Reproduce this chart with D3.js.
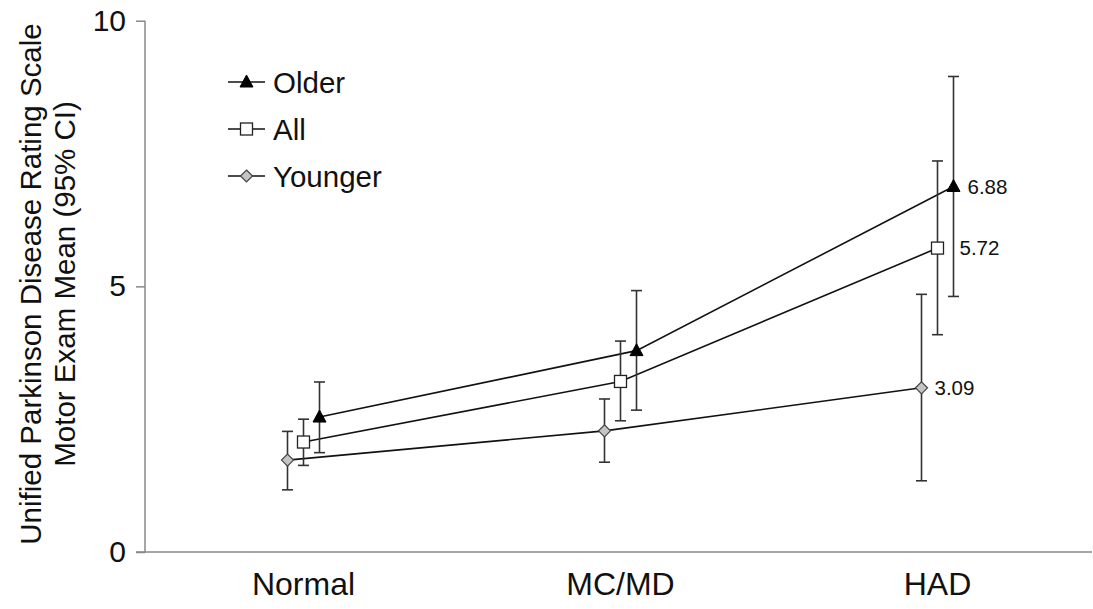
<!DOCTYPE html>
<html><head><meta charset="utf-8">
<script src="https://cdn.jsdelivr.net/npm/d3@7"></script>
<style>body{margin:0;background:#fff}svg{display:block}text{font-family:"Liberation Sans",Arial,sans-serif;fill:#111}</style>
</head><body><svg id="c" width="1093" height="609"></svg>
<script>
const categories = ["Normal", "MC/MD", "HAD"];
const seriesNames = ["Older", "All", "Younger"];
const olderMean = [2.54, 3.79, 6.88];
const olderLow  = [1.87, 2.67, 4.81];
const olderHigh = [3.20, 4.92, 8.95];
const allMean = [2.07, 3.21, 5.72];
const allLow  = [1.63, 2.47, 4.09];
const allHigh = [2.50, 3.97, 7.36];
const youngerMean = [1.73, 2.28, 3.09];
const youngerLow  = [1.17, 1.69, 1.34];
const youngerHigh = [2.27, 2.88, 4.85];
const yTicks = [0, 5, 10];
const valueLabels = ["6.88", "5.72", "3.09"];

const svg = d3.select("#c");
const x = d3.scaleBand().domain(categories).range([145, 1096]);
const y = d3.scaleLinear().domain([0, 10]).range([552, 20.7]);
const offset = d3.scalePoint().domain(["Younger", "All", "Older"]).range([-16, 16]);

const series = [
  {name: "Older", mean: olderMean, lo: olderLow, hi: olderHigh, labelDx: 14},
  {name: "All", mean: allMean, lo: allLow, hi: allHigh, labelDx: 22},
  {name: "Younger", mean: youngerMean, lo: youngerLow, hi: youngerHigh, labelDx: 13}
];
const cx = (s, i) => x(categories[i]) + x.bandwidth() / 2 + offset(s.name);

// axes
const yAxis = d3.axisLeft(y).tickValues(yTicks).tickSize(9).tickPadding(10);
const gy = svg.append("g").attr("transform", "translate(145,0)").call(yAxis);
gy.select(".domain").attr("stroke", "#888").attr("stroke-width", 1.5).attr("d", "M0,20.7V552");
gy.selectAll(".tick line").attr("stroke", "#888").attr("stroke-width", 1.5);
gy.selectAll(".tick text").attr("font-size", 30).attr("fill", "#111").attr("font-family", "Liberation Sans, Arial, sans-serif");

const xAxis = d3.axisBottom(x).tickSize(0).tickPadding(20);
const gx = svg.append("g").attr("transform", "translate(0,552)").call(xAxis);
gx.select(".domain").attr("stroke", "#888").attr("stroke-width", 1.5).attr("d", "M136,0H1092");
gx.selectAll(".tick text").attr("font-size", 32).attr("fill", "#111").attr("font-family", "Liberation Sans, Arial, sans-serif")
  .attr("y", 20).attr("dy", "0.71em");

// y title
const yt = svg.append("text").attr("transform", "translate(41,284) rotate(-90)")
  .attr("text-anchor", "middle").attr("font-size", 29.5);
yt.append("tspan").attr("x", 0).attr("dy", 0).text("Unified Parkinson Disease Rating Scale");
yt.append("tspan").attr("x", 0).attr("dy", 34).text("Motor Exam Mean (95% CI)");

// lines
const line = d3.line();
series.forEach(s => {
  svg.append("path").attr("fill", "none").attr("stroke", "#111").attr("stroke-width", 1.6)
    .attr("d", line(s.mean.map((m, i) => [cx(s, i), y(m)])));
});

// error bars
series.forEach(s => {
  const g = svg.append("g").attr("stroke", "#333").attr("stroke-width", 1.6);
  s.mean.forEach((m, i) => {
    const X = cx(s, i);
    g.append("line").attr("x1", X).attr("x2", X).attr("y1", y(s.lo[i])).attr("y2", y(s.hi[i]));
    g.append("line").attr("x1", X - 5.5).attr("x2", X + 5.5).attr("y1", y(s.lo[i])).attr("y2", y(s.lo[i]));
    g.append("line").attr("x1", X - 5.5).attr("x2", X + 5.5).attr("y1", y(s.hi[i])).attr("y2", y(s.hi[i]));
  });
});

// markers
function marker(g, name, X, Y) {
  if (name === "Older") {
    g.append("path").attr("d", `M${X},${Y-7}L${X+6.5},${Y+5}L${X-6.5},${Y+5}Z`).attr("fill", "#000").attr("stroke", "#000");
  } else if (name === "All") {
    g.append("rect").attr("x", X - 6).attr("y", Y - 6).attr("width", 12).attr("height", 12)
      .attr("fill", "#fff").attr("stroke", "#222").attr("stroke-width", 1.3);
  } else {
    g.append("path").attr("d", `M${X},${Y-6}L${X+6},${Y}L${X},${Y+6}L${X-6},${Y}Z`)
      .attr("fill", "#c4c4c4").attr("stroke", "#444").attr("stroke-width", 1.2);
  }
}
series.forEach(s => {
  const g = svg.append("g");
  s.mean.forEach((m, i) => marker(g, s.name, cx(s, i), y(m)));
});

// value labels at HAD
series.forEach((s, k) => {
  const i = 2;
  svg.append("text").attr("x", cx(s, i) + s.labelDx).attr("y", y(s.mean[i])).attr("dy", "0.35em")
    .attr("font-size", 20.5).text(valueLabels[k]);
});

// legend
const lg = svg.append("g");
seriesNames.forEach((n, k) => {
  const Y = 82 + k * 47;
  lg.append("line").attr("x1", 228).attr("x2", 265).attr("y1", Y).attr("y2", Y).attr("stroke", "#111").attr("stroke-width", 1.6);
  marker(lg, n, 246.5, Y);
  lg.append("text").attr("x", 273).attr("y", Y).attr("dy", "0.36em").attr("font-size", 29.5).text(n);
});
</script></body></html>
